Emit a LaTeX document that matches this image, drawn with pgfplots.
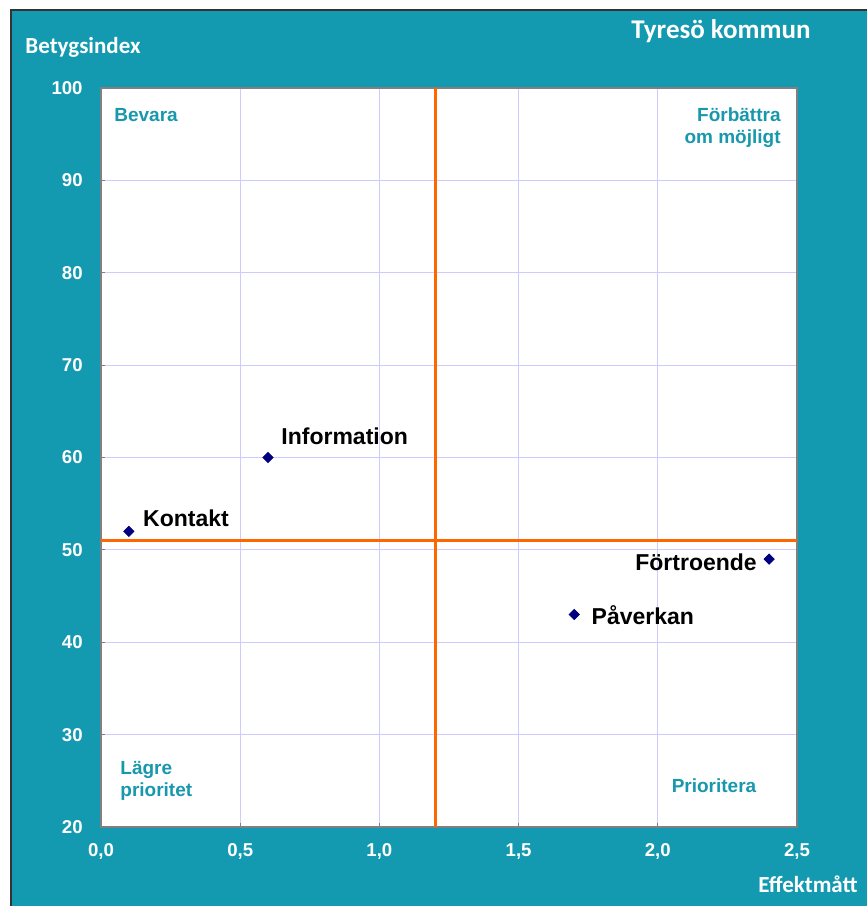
\documentclass[border=0pt]{standalone}
\usepackage{fontspec}
\setmainfont{Liberation Sans}
\newfontfamily\calib{Carlito}
\usepackage{pgfplots}
\pgfplotsset{compat=1.18}
\definecolor{bgteal}{RGB}{20,154,176}
\definecolor{qteal}{RGB}{24,152,172}
\definecolor{lineorange}{RGB}{255,102,0}
\definecolor{gridlav}{RGB}{204,204,255}
\definecolor{ptnavy}{RGB}{0,0,128}
\begin{document}
\begin{tikzpicture}
% background (1 px of the reference = 0.5pt)
\fill[white] (0,0) rectangle (433.5pt,453pt);
\fill[bgteal] (5.5pt,0) rectangle (433.5pt,448pt);
\draw[black!80, line width=0.75pt] (5.5pt,0) -- (5.5pt,448pt) -- (433.5pt,448pt);

\begin{axis}[
  at={(50.5pt,39.5pt)}, anchor=south west,
  scale only axis, width=348pt, height=369.5pt,
  xmin=0, xmax=2.5, ymin=20, ymax=100,
  xtick={0,0.5,...,2.5}, ytick={20,30,...,100},
  axis background/.style={fill=white},
  axis line style={draw=black!50, line width=0.75pt},
  grid=major, grid style={gridlav, line width=0.5pt},
  tick align=inside, major tick length=2pt,
  tick style={black!50, line width=0.5pt},
  xtick pos=bottom, ytick pos=left,
  /pgf/number format/assume math mode=true,
  /pgf/number format/use comma,
  xticklabel style={/pgf/number format/fixed, /pgf/number format/fixed zerofill,
    /pgf/number format/precision=1,
    font=\fontsize{9.3}{10}\selectfont\bfseries, text=white,
    anchor=base, inner sep=0pt, yshift=-14.75pt},
  yticklabel style={font=\fontsize{9.3}{10}\selectfont\bfseries, text=white,
    anchor=east, inner sep=0pt, xshift=-9pt},
  clip=false,
]
\addplot[lineorange, line width=1.5pt] coordinates {(1.2,20) (1.2,100)};
\addplot[lineorange, line width=1.5pt] coordinates {(0,51) (2.5,51)};
\addplot[only marks, mark=square*, mark size=1.8pt, color=ptnavy,
  mark options={rotate=45}]
  coordinates {(0.1,52) (0.6,60) (2.4,49) (1.7,43)};

\begin{scope}[every node/.style={inner sep=0pt, font=\fontsize{11.5}{13}\selectfont\bfseries}]
\node[anchor=west, xshift=6.5pt, yshift=10.5pt] at (axis cs:0.6,60) {Information};
\node[anchor=west, xshift=7pt, yshift=6.5pt] at (axis cs:0.1,52) {Kontakt};
\node[anchor=east, xshift=-6pt, yshift=-1.5pt] at (axis cs:2.4,49) {Förtroende};
\node[anchor=west, xshift=8.5pt, yshift=-0.5pt] at (axis cs:1.7,43) {Påverkan};
\end{scope}
\end{axis}

\begin{scope}[every node/.style={inner sep=0pt}]
\node[text=white, font=\calib\fontsize{13.5}{15}\selectfont\bfseries] at (360.5pt,437.5pt) {Tyresö kommun};
\node[text=white, font=\calib\fontsize{11.5}{13}\selectfont\bfseries] at (41.5pt,429.5pt) {Betygsindex};
\node[text=white, font=\calib\fontsize{11.5}{13}\selectfont\bfseries] at (404pt,11pt) {Effektmått};
\begin{scope}[every node/.append style={text=qteal, font=\fontsize{9.5}{11}\selectfont\bfseries}]
\node[anchor=west] at (57pt,395.5pt) {Bevara};
\node[anchor=east, align=right] at (390.5pt,389pt) {Förbättra\\om möjligt};
\node[anchor=west, align=left] at (60pt,62.5pt) {Lägre\\prioritet};
\node at (357pt,60pt) {Prioritera};
\end{scope}
\end{scope}
\pgfresetboundingbox
\path (0,0) rectangle (433.5pt,453pt);
\end{tikzpicture}
\end{document}
